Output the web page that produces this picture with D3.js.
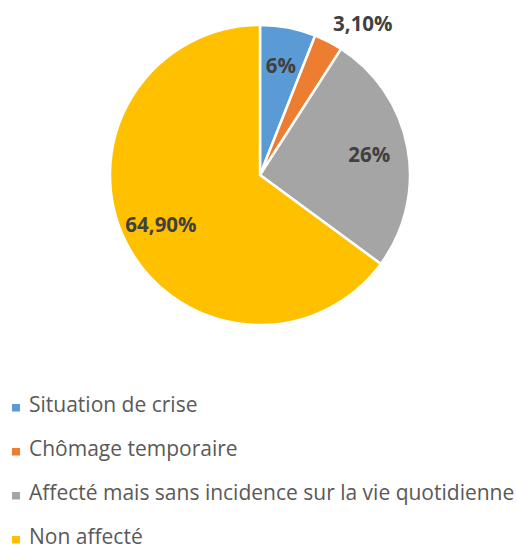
<!DOCTYPE html>
<html>
<head>
<meta charset="utf-8">
<script src="https://cdn.jsdelivr.net/npm/d3@7"></script>
<style>
  body { margin: 0; background: #fff; }
  text { font-family: "Open Sans", sans-serif; }
</style>
</head>
<body>
<div id="chart"></div>
<script>
const categories = [
    "Situation de crise",
    "Chômage temporaire",
    "Affecté mais sans incidence sur la vie quotidienne",
    "Non affecté"
];
const values = [6, 3.1, 26, 64.9];
const valueLabels = ["6%", "3,10%", "26%", "64,90%"];
const colors = ["#5B9BD5", "#ED7D31", "#A5A5A5", "#FFC000"];

const width = 517;
const height = 550;
const cx = 260, cy = 175, radius = 150;

const svg = d3.select("#chart")
    .append("svg")
    .attr("width", width)
    .attr("height", height);

const data = categories.map((c, i) => ({ name: c, value: values[i], label: valueLabels[i], color: colors[i] }));

const pie = d3.pie()
    .sort(null)
    .value(d => d.value);

const arc = d3.arc()
    .innerRadius(0)
    .outerRadius(radius);

const labelArc = d3.arc()
    .innerRadius(radius * 0.74)
    .outerRadius(radius * 0.74);

const g = svg.append("g")
    .attr("transform", `translate(${cx}, ${cy})`);

const arcs = pie(data);

g.selectAll(".slice")
    .data(arcs)
    .enter()
    .append("path")
    .attr("class", "slice")
    .attr("d", arc)
    .attr("fill", d => d.data.color)
    .attr("stroke", "#fff")
    .attr("stroke-width", 2.5)
    .attr("stroke-linejoin", "round");

// Étiquettes : dedans sauf la petite tranche, placée à l'extérieur
g.selectAll(".label")
    .data(arcs)
    .enter()
    .append("text")
    .attr("class", "label")
    .each(function (d) {
        const small = d.data.value < 5;
        const t = d3.select(this);
        if (small) {
            const mid = (d.startAngle + d.endAngle) / 2;
            const r = radius + 10;
            t.attr("x", Math.sin(mid) * r)
                .attr("y", -Math.cos(mid) * r - 2)
                .attr("text-anchor", "start");
        } else {
            const [x, y] = labelArc.centroid(d);
            t.attr("x", x)
                .attr("y", y)
                .attr("dy", "0.35em")
                .attr("text-anchor", "middle");
        }
    })
    .attr("font-size", 20.5)
    .attr("font-weight", "bold")
    .attr("fill", "#404040")
    .text(d => d.data.label);

// Légende
const legend = svg.append("g")
    .attr("transform", "translate(12, 0)");

const rowY = d3.scalePoint()
    .domain(categories)
    .range([412, 544]);

const items = legend.selectAll(".legend-item")
    .data(data)
    .enter()
    .append("g")
    .attr("class", "legend-item")
    .attr("transform", d => `translate(0, ${rowY(d.name)})`);

items.append("rect")
    .attr("x", 0)
    .attr("y", -8)
    .attr("width", 8)
    .attr("height", 7.5)
    .attr("fill", d => d.color);

items.append("text")
    .attr("x", 17)
    .attr("y", 0)
    .attr("font-size", 21)
    .attr("fill", "#595959")
    .text(d => d.name);
</script>
</body>
</html>
